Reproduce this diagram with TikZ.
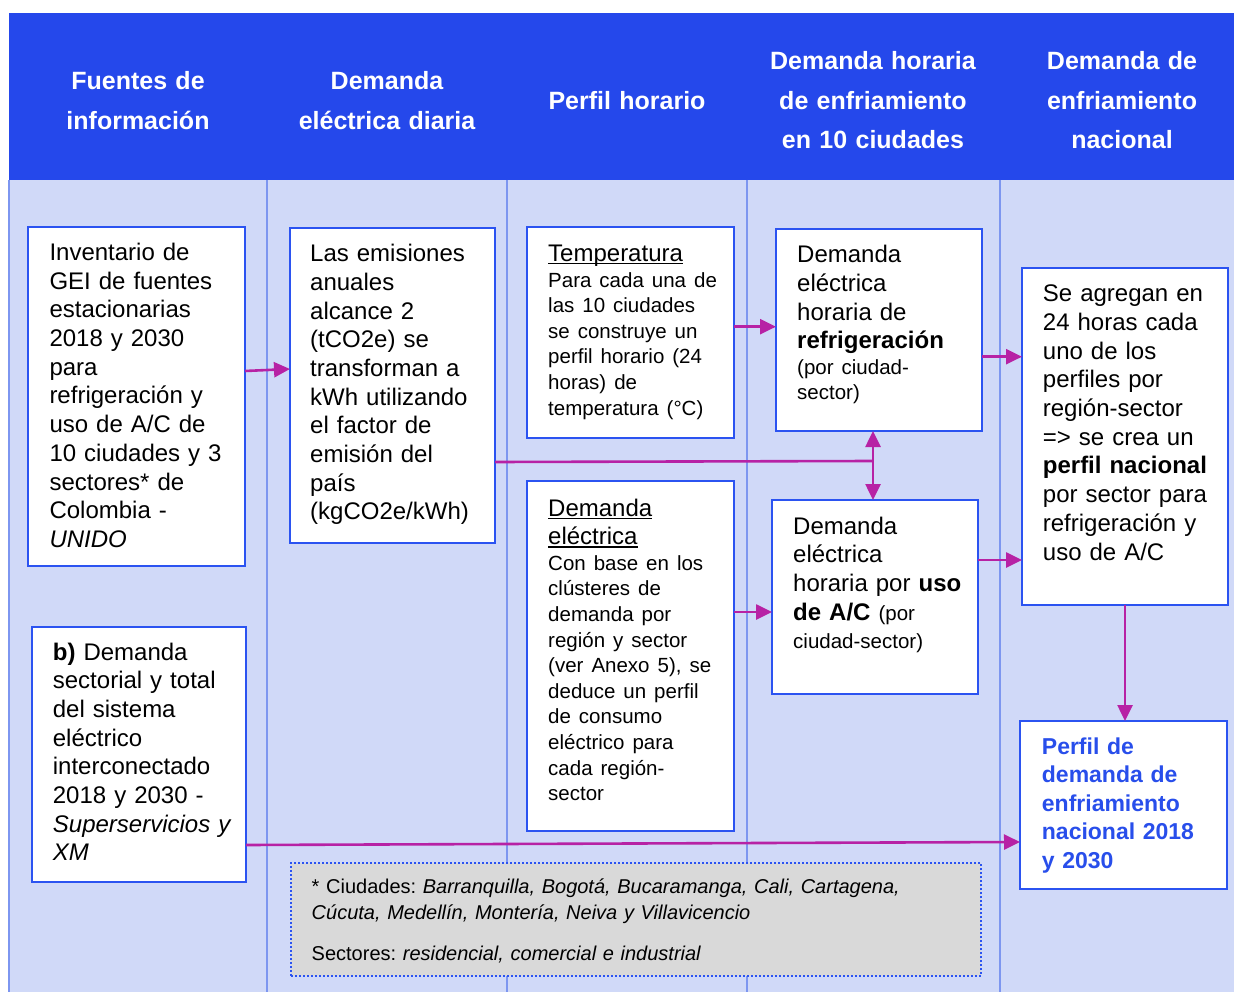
\documentclass[tikz,border=0pt]{standalone}
\usepackage{fontspec}
\setmainfont{Liberation Sans}
\usetikzlibrary{arrows.meta}
\definecolor{cabeza}{RGB}{37,72,235}
\definecolor{fondo}{RGB}{208,217,248}
\definecolor{separa}{RGB}{125,150,240}
\definecolor{borde}{RGB}{43,83,241}
\definecolor{fmag}{RGB}{183,34,165}
\definecolor{gris}{RGB}{217,217,217}
\definecolor{azultxt}{RGB}{40,78,235}
\newcommand{\bodyf}{\fontsize{24}{28.7}\selectfont}
\newcommand{\smallf}{\fontsize{20.5}{25.6}\selectfont}
\newcommand{\hdrf}{\fontsize{25}{39.5}\selectfont\bfseries}
\newcommand{\notef}{\fontsize{20}{26}\selectfont}
\newcommand{\perff}{\fontsize{23}{28.6}\selectfont\bfseries}
\newcommand{\undr}[1]{\leavevmode\setbox0\hbox{#1}\rlap{\rule[-3pt]{\wd0}{1.3pt}}\box0}
\frenchspacing

\begin{document}
\begin{tikzpicture}[x=1pt,y=-1pt]
		\tikzset{
			caja/.style = {draw=borde, line width=2.6pt, fill=white, anchor=north west, inner sep=0pt, outer sep=0pt},
			texto/.style = {anchor=base west, align=left, inner sep=0pt, text width=200pt, font=\bodyf},
			encab/.style = {anchor=base, align=center, inner sep=0pt, text width=240pt, text=white, font=\hdrf},
			linea/.style = {draw=fmag, line width=2.6pt},
			flecha/.style = {linea, -{Triangle[length=16pt,width=15pt]}}
		}
		\useasboundingbox (0,0) rectangle (1234,992);
		\fill[white] (0,0) rectangle (1234,992);
		\fill[fondo] (9,180) rectangle (1234,992);
		\fill[cabeza] (9,13) rectangle (1234,180);
		\foreach \x in {9,267,507,747,1000}
			\draw[separa, line width=1.5pt] (\x,180) -- (\x,992);
		% encabezados
		\node[encab] (h1) at (138,90) {Fuentes de\\información};
		\node[encab] (h2) at (387,90) {Demanda\\eléctrica diaria};
		\node[encab] (h3) at (627,110) {Perfil horario};
		\node[encab] (h4) at (873,70) {Demanda horaria\\de enfriamiento\\en 10 ciudades};
		\node[encab] (h5) at (1122,70) {Demanda de\\enfriamiento\\nacional};
		% cajas
		\node[caja, minimum width=217, minimum height=339] (inventario) at (28,227) {};
		\node[caja, minimum width=205, minimum height=315] (emisiones) at (290,228) {};
		\node[caja, minimum width=207, minimum height=211] (temperatura) at (527,227) {};
		\node[caja, minimum width=207, minimum height=350] (demanda) at (527,481) {};
		\node[caja, minimum width=206, minimum height=202] (refrig) at (776,229) {};
		\node[caja, minimum width=206, minimum height=194] (aire) at (772,500) {};
		\node[caja, minimum width=206, minimum height=337] (agrega) at (1022,268) {};
		\node[caja, minimum width=207, minimum height=168] (perfil) at (1020,721) {};
		\node[caja, minimum width=214, minimum height=255] (sistema) at (32,627) {};
		\node[caja, fill=gris, line width=2pt, dash pattern=on 2pt off 2pt, minimum width=690, minimum height=113] (nota) at (291,863) {};
		% textos
		\node[texto] (inventariotxt) at (49.3,260.5) {Inventario de\\GEI de fuentes\\estacionarias\\2018 y 2030\\para\\refrigeración y\\uso de A/C de\\10 ciudades y 3\\sectores* de\\Colombia -\\\textit{UNIDO}};
		\node[texto] (emisionestxt) at (310,261.7) {Las emisiones\\anuales\\alcance 2\\(tCO2e) se\\transforman a\\kWh utilizando\\el factor de\\emisión del\\país\\(kgCO2e/kWh)};
		\node[texto] (temperaturatxt) at (548,261.5) {\undr{Temperatura}\par{\smallf Para cada una de\\las 10 ciudades\\se construye un\\perfil horario (24\\horas) de\\temperatura (°C)\par}};
		\node[texto] (demandatxt) at (548,516) {\undr{Demanda}\\\undr{eléctrica}\par{\smallf Con base en los\\clústeres de\\demanda por\\región y sector\\(ver Anexo 5), se\\deduce un perfil\\de consumo\\eléctrico para\\cada región-\\sector\par}};
		\node[texto] (refrigtxt) at (797,262.7) {Demanda\\eléctrica\\horaria de\\\textbf{refrigeración}\par{\smallf (por ciudad-\\sector)\par}};
		\node[texto] (airetxt) at (793,534) {Demanda\\eléctrica\\horaria por \textbf{uso}\\\textbf{de A/C} {\smallf (por}\\{\smallf ciudad-sector)}};
		\node[texto] (agregatxt) at (1042.7,301.7) {Se agregan en\\24 horas cada\\uno de los\\perfiles por\\región-sector\\=> se crea un\\\textbf{perfil nacional}\\por sector para\\refrigeración y\\uso de A/C};
		\node[texto, font=\perff, text=azultxt] (perfiltxt) at (1041.7,754) {Perfil de\\demanda de\\enfriamiento\\nacional 2018\\y 2030};
		\node[texto] (sistematxt) at (52.7,660) {\textbf{b)} Demanda\\sectorial y total\\del sistema\\eléctrico\\interconectado\\2018 y 2030 -\\\textit{Superservicios y}\\\textit{XM}};
		\node[texto, font=\notef, text width=660pt] (notatxt) at (311.5,893) {* Ciudades: \textit{Barranquilla, Bogotá, Bucaramanga, Cali, Cartagena,}\\\textit{Cúcuta, Medellín, Montería, Neiva y Villavicencio}\\[15pt]Sectores: \textit{residencial, comercial e industrial}};
		% flechas
		\coordinate (cruce) at (873,461);
		\draw[flecha] (inventario.east |- 0,371) -- (emisiones.west |- 0,369);
		\draw[linea] (emisiones.east |- 0,462) -- (cruce);
		\draw[flecha] (cruce) -- (cruce |- refrig.south);
		\draw[flecha] (cruce) -- (cruce |- aire.north);
		\draw[flecha] (temperatura.east |- 0,326.7) -- (refrig.west |- 0,326.7);
		\draw[flecha] (demanda.east |- 0,612) -- (aire.west |- 0,612);
		\draw[flecha] (refrig.east |- 0,356.7) -- (agrega.west |- 0,356.7);
		\draw[flecha] (aire.east |- 0,560) -- (agrega.west |- 0,560);
		\draw[flecha] (agrega.south) -- (agrega.south |- perfil.north);
		\draw[flecha] (sistema.east |- 0,845) -- (perfil.west |- 0,842);
\end{tikzpicture}
\end{document}
